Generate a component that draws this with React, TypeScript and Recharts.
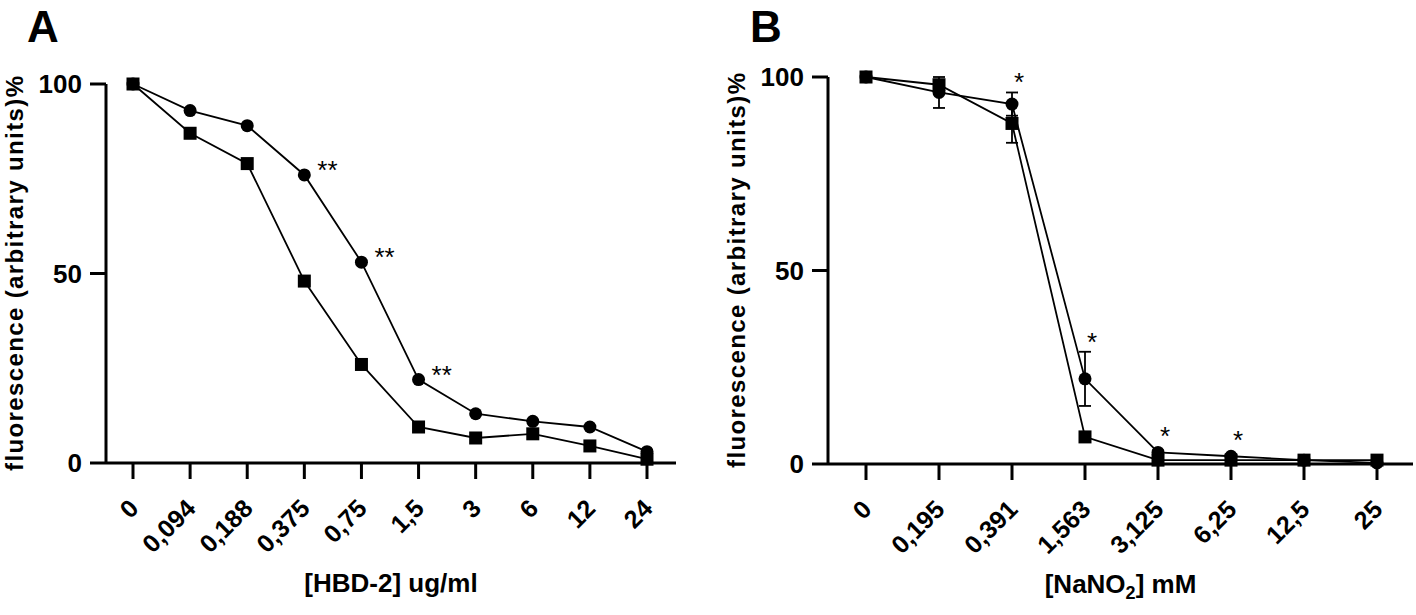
import { LineChart, Line, XAxis, YAxis, ErrorBar, LabelList, Label } from "recharts";

const FONT = '"Liberation Sans", Arial, Helvetica, sans-serif';

// A: HBD-2 dose response
const hbdDoses = ["0", "0,094", "0,188", "0,375", "0,75", "1,5", "3", "6", "12", "24"];
const hbdCircle = [100, 93, 89, 76, 53, 22, 13, 11, 9.5, 3];
const hbdSquare = [100, 87, 79, 48, 26, 9.5, 6.6, 7.7, 4.5, 1];
const hbdSig = ["", "", "", "**", "**", "**", "", "", "", ""];

// B: NaNO2 dose response (mean, SD)
const nitriteDoses = ["0", "0,195", "0,391", "1,563", "3,125", "6,25", "12,5", "25"];
const nitriteCircle = [100, 96, 93, 22, 3, 2, 1, 0.3];
const nitriteCircleErr = [0, 4, 3, 7, 0.5, 0.5, 0, 0];
const nitriteSquare = [100, 98, 88, 7, 1, 1, 1, 1];
const nitriteSquareErr = [0, 1, 5, 1, 0, 0, 0, 0];
const nitriteSig = ["", "", "*", "*", "*", "*", "", ""];

const yTicks = [0, 50, 100];

const hbdData = hbdDoses.map((dose, i) => ({
  dose,
  circle: hbdCircle[i],
  square: hbdSquare[i],
  sig: hbdSig[i],
}));

const nitriteData = nitriteDoses.map((dose, i) => ({
  dose,
  circle: nitriteCircle[i],
  circleErr: [nitriteCircleErr[i], nitriteCircleErr[i]],
  square: nitriteSquare[i],
  squareErr: [nitriteSquareErr[i], nitriteSquareErr[i]],
  sig: nitriteSig[i],
}));

// layout of the two panels
const H = 615;
const A_W = 700;
const A_TOP = 84;
const A_AXIS_H = 152;
const B_W = 716;
const B_TOP = 77;
const B_AXIS_H = 151;
const B_PX_PER_UNIT = (H - B_TOP - B_AXIS_H) / 100;

function CircleDot(props: any) {
  const { cx, cy, index } = props;
  if (cx == null || cy == null) return null;
  return <circle key={`c-${index}`} cx={cx} cy={cy} r={6.5} fill="#000" />;
}

function SquareDot(props: any) {
  const { cx, cy, index } = props;
  if (cx == null || cy == null) return null;
  return <rect key={`s-${index}`} x={cx - 6.5} y={cy - 6.5} width={13} height={13} fill="#000" />;
}

function DoseTick(props: any) {
  const { x, y, payload } = props;
  const ax = x + 7;
  const ay = y + 31;
  return (
    <text
      x={ax}
      y={ay}
      transform={`rotate(-45 ${ax} ${ay})`}
      textAnchor="end"
      fontFamily={FONT}
      fontSize={25}
      fontWeight={700}
      fill="#000"
    >
      {payload.value}
    </text>
  );
}

function YTitle(props: any) {
  const vb = props.viewBox || { x: 0, y: 0, width: 0, height: 0 };
  const x = vb.x + vb.width - 83;
  const y = vb.y + vb.height / 2;
  return (
    <text
      x={x}
      y={y}
      transform={`rotate(-90 ${x} ${y})`}
      textAnchor="middle"
      textLength={395}
      lengthAdjust="spacing"
      fontFamily={FONT}
      fontSize={24}
      fontWeight={700}
      fill="#000"
    >
      fluorescence (arbitrary units)%
    </text>
  );
}

function HbdTitle(props: any) {
  const vb = props.viewBox;
  return (
    <text x={vb.x + vb.width / 2} y={vb.y + 129} textAnchor="middle" fontFamily={FONT} fontSize={26} fontWeight={700} fill="#000">
      [HBD-2] ug/ml
    </text>
  );
}

function NitriteTitle(props: any) {
  const vb = props.viewBox;
  return (
    <text x={vb.x + vb.width / 2} y={vb.y + 129} textAnchor="middle" fontFamily={FONT} fontSize={26} fontWeight={700} fill="#000">
      [NaNO<tspan dy={6} fontSize={18}>2</tspan>
      <tspan dy={-6}>] mM</tspan>
    </text>
  );
}

// ** next to the circle series in A
function DoubleStar(props: any) {
  const { x, y, value } = props;
  if (!value) return null;
  return (
    <text x={x + 13} y={y + 4} fontFamily={FONT} fontSize={26} fill="#000">
      {value}
    </text>
  );
}

// * above the circle series (and its error bar) in B
function SingleStar(props: any) {
  const { x, y, value, index } = props;
  if (!value) return null;
  const errTop = y - nitriteCircleErr[index] * B_PX_PER_UNIT;
  const cy = Math.min(y - 22, errTop - 16);
  return (
    <text x={x + 7} y={cy + 15} textAnchor="middle" fontFamily={FONT} fontSize={26} fill="#000">
      {value}
    </text>
  );
}

const axisStroke = { stroke: "#000", strokeWidth: 3 };
const yTick = { fontSize: 26, fontWeight: 700, fill: "#000", fontFamily: FONT };

export default function App() {
  return (
    <div style={{ position: "absolute", left: 0, top: 0, width: 1416, height: H, background: "#fff" }}>
      {/* panel letters */}
      <div style={{ position: "absolute", left: 27, top: 5, fontFamily: FONT, fontSize: 44, fontWeight: 700, lineHeight: "44px" }}>
        A
      </div>
      <div style={{ position: "absolute", left: 750, top: 5, fontFamily: FONT, fontSize: 44, fontWeight: 700, lineHeight: "44px" }}>
        B
      </div>

      {/* A */}
      <div style={{ position: "absolute", left: 0, top: 0 }}>
        <LineChart width={A_W} height={H} data={hbdData} margin={{ top: A_TOP, right: 24, bottom: 0, left: 0 }}>
          <XAxis
            dataKey="dose"
            interval={0}
            height={A_AXIS_H}
            padding={{ left: 27, right: 29 }}
            tickSize={16}
            tickMargin={0}
            axisLine={axisStroke}
            tickLine={axisStroke}
            tick={<DoseTick />}
          >
            <Label content={<HbdTitle />} />
          </XAxis>
          <YAxis
            width={106}
            domain={[0, 100]}
            ticks={yTicks}
            tickSize={16}
            tickMargin={8}
            axisLine={axisStroke}
            tickLine={axisStroke}
            tick={yTick}
          >
            <Label content={<YTitle />} />
          </YAxis>
          <Line
            type="linear"
            dataKey="circle"
            stroke="#000"
            strokeWidth={1.8}
            dot={CircleDot}
            activeDot={false}
            isAnimationActive={false}
          >
            <LabelList dataKey="sig" content={<DoubleStar />} />
          </Line>
          <Line
            type="linear"
            dataKey="square"
            stroke="#000"
            strokeWidth={1.8}
            dot={SquareDot}
            activeDot={false}
            isAnimationActive={false}
          />
        </LineChart>
      </div>

      {/* B */}
      <div style={{ position: "absolute", left: A_W, top: 0 }}>
        <LineChart width={B_W} height={H} data={nitriteData} margin={{ top: B_TOP, right: 3, bottom: 0, left: 0 }}>
          <XAxis
            dataKey="dose"
            interval={0}
            height={B_AXIS_H}
            padding={{ left: 38, right: 36 }}
            tickSize={16}
            tickMargin={0}
            axisLine={axisStroke}
            tickLine={axisStroke}
            tick={<DoseTick />}
          >
            <Label content={<NitriteTitle />} />
          </XAxis>
          <YAxis
            width={128}
            domain={[0, 100]}
            ticks={yTicks}
            tickSize={16}
            tickMargin={8}
            axisLine={axisStroke}
            tickLine={axisStroke}
            tick={yTick}
          >
            <Label content={<YTitle />} />
          </YAxis>
          <Line
            type="linear"
            dataKey="circle"
            stroke="#000"
            strokeWidth={1.8}
            dot={CircleDot}
            activeDot={false}
            isAnimationActive={false}
          >
            <ErrorBar dataKey="circleErr" direction="y" width={6} stroke="#000" strokeWidth={1.8} />
            <LabelList dataKey="sig" content={<SingleStar />} />
          </Line>
          <Line
            type="linear"
            dataKey="square"
            stroke="#000"
            strokeWidth={1.8}
            dot={SquareDot}
            activeDot={false}
            isAnimationActive={false}
          >
            <ErrorBar dataKey="squareErr" direction="y" width={6} stroke="#000" strokeWidth={1.8} />
          </Line>
        </LineChart>
      </div>
    </div>
  );
}
